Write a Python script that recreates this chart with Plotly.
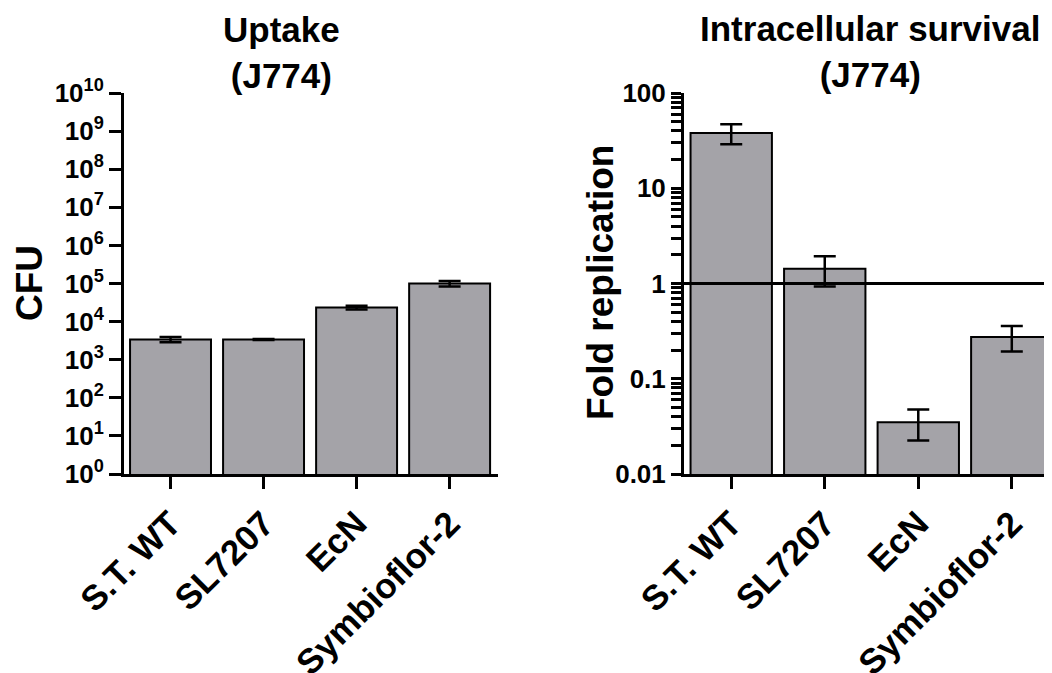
import plotly.graph_objects as go
from plotly.subplots import make_subplots

categories = ["S.T. WT", "SL7207", "EcN", "Symbioflor-2"]
uptake_cfu = [3400, 3400, 23500, 100000]
uptake_err = [550, 120, 2600, 17000]
fold_rep = [38, 1.43, 0.035, 0.275]
fold_err = [9, 0.5, 0.0125, 0.082]

left_tickvals = [10 ** i for i in range(0, 11)]
left_ticktext = ["10<sup>%d</sup>" % i for i in range(0, 11)]
right_major = [0.01, 0.1, 1, 10, 100]
right_major_text = ["0.01", "0.1", "1", "10", "100"]
right_minor = [m * 10.0 ** e for e in range(-2, 2) for m in range(2, 10)]

FONT = "Liberation Sans, Arial, sans-serif"
BAR = "#a4a3a8"
xpos = list(range(len(categories)))

W, H = 1052, 673
OFF = 8  # page body margin


def px(x):
    return (x - OFF) / W


def py(y):
    return 1 - (y - OFF) / H


right_tickvals = right_major + right_minor
right_ticktext = right_major_text + [""] * len(right_minor)

fig = make_subplots(rows=1, cols=2)

fig.add_trace(go.Bar(
    x=xpos, y=uptake_cfu, width=0.87,
    marker=dict(color=BAR, line=dict(color="black", width=2)),
    error_y=dict(type="data", array=uptake_err, color="black", thickness=2.5, width=11),
    showlegend=False), row=1, col=1)

fig.add_trace(go.Bar(
    x=xpos, y=fold_rep, width=0.87,
    marker=dict(color=BAR, line=dict(color="black", width=2)),
    error_y=dict(type="data", array=fold_err, color="black", thickness=2.5, width=11),
    showlegend=False), row=1, col=2)

ydom = [py(474), py(93)]

base = dict(showline=True, linecolor="black", linewidth=3, ticks="outside",
            tickcolor="black", showgrid=False, zeroline=False, automargin=False)
xfont = dict(family=FONT, size=35, color="black", weight="bold")
yfont = dict(family=FONT, size=26, color="black", weight="bold")

fig.update_layout(
    template="none",
    width=W, height=H, margin=dict(l=0, r=0, t=0, b=0),
    plot_bgcolor="white", paper_bgcolor="white",
    xaxis=dict(domain=[px(124), px(498)], range=[-0.5, 3.52], tickvals=xpos,
               ticktext=categories, tickangle=-45, ticklen=12, tickwidth=3, tickfont=xfont, **base),
    xaxis2=dict(domain=[px(684), px(1052)], range=[-0.505, 3.43], tickvals=xpos,
                ticktext=categories, tickangle=-45, ticklen=12, tickwidth=3, tickfont=xfont, **base),
    yaxis=dict(domain=ydom, type="log", range=[0, 10], tickvals=left_tickvals,
               ticktext=left_ticktext, ticklen=12, tickwidth=3, tickfont=yfont, **base),
    yaxis2=dict(domain=ydom, type="log", range=[-2, 2], tickvals=right_tickvals,
                ticktext=right_ticktext, ticklen=10, tickwidth=2.5, tickfont=yfont, **base),
)

fig.add_shape(type="line", xref="x2 domain", yref="y2", x0=0, x1=1, y0=1, y1=1,
              line=dict(color="black", width=3))

title_font = dict(family=FONT, size=35, color="black", weight="bold")
ax_font = dict(family=FONT, size=37, color="black", weight="bold")
fig.add_annotation(text="Uptake<br>(J774)", xref="paper", yref="paper", x=px(281), y=py(53),
                   showarrow=False, font=title_font, xanchor="center", yanchor="middle")
fig.add_annotation(text="Intracellular survival<br>(J774)", xref="paper", yref="paper", x=px(870),
                   y=py(52), showarrow=False, font=title_font, xanchor="center", yanchor="middle")
fig.add_annotation(text="CFU", xref="paper", yref="paper", x=px(29), y=py(283), textangle=-90,
                   showarrow=False, font=ax_font, xanchor="center", yanchor="middle")
fig.add_annotation(text="Fold replication", xref="paper", yref="paper", x=px(600), y=py(283),
                   textangle=-90, showarrow=False, font=ax_font, xanchor="center", yanchor="middle")

fig.write_html("out.html")
